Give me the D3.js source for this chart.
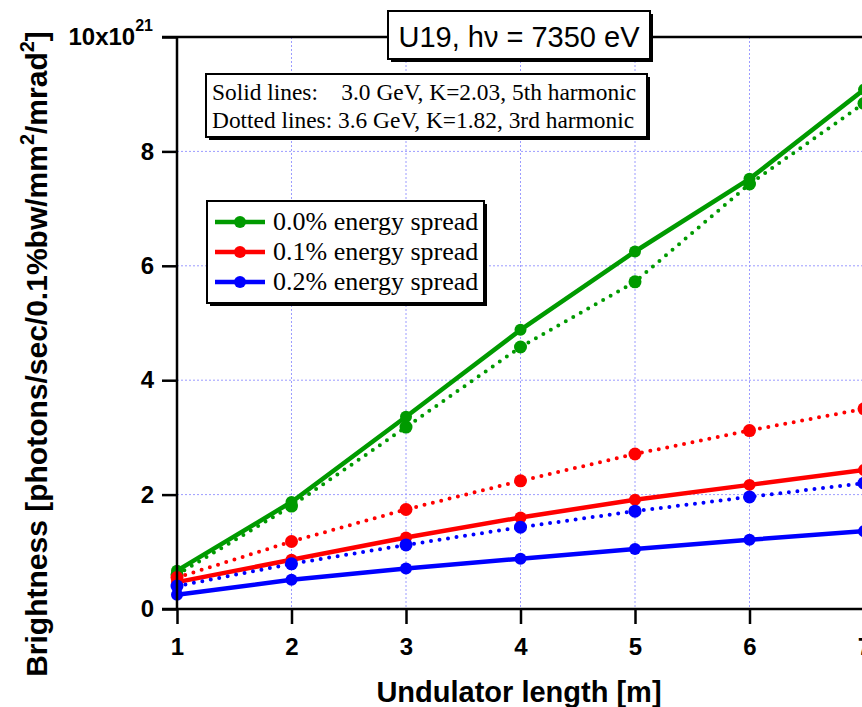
<!DOCTYPE html>
<html>
<head>
<meta charset="utf-8">
<script src="https://cdn.jsdelivr.net/npm/d3@7"></script>
<style>
  html, body { margin: 0; padding: 0; background: #fff; }
  svg { display: block; }
</style>
</head>
<body>
<svg id="chart" width="862" height="707"></svg>
<script>
// Undulator length [m]
const lengths = [1, 2, 3, 4, 5, 6, 7];

// Brightness in units of 1e21 photons/sec/0.1%bw/mm^2/mrad^2
// Solid lines: 3.0 GeV, K=2.03, 5th harmonic
const solid00 = [0.67, 1.87, 3.36, 4.88, 6.25, 7.52, 9.08];
const solid01 = [0.47, 0.86, 1.25, 1.60, 1.91, 2.17, 2.43];
const solid02 = [0.25, 0.51, 0.71, 0.88, 1.05, 1.21, 1.36];
// Dotted lines: 3.6 GeV, K=1.82, 3rd harmonic
const dotted00 = [0.60, 1.80, 3.18, 4.58, 5.72, 7.43, 8.84];
const dotted01 = [0.55, 1.18, 1.74, 2.24, 2.71, 3.12, 3.50];
const dotted02 = [0.40, 0.79, 1.12, 1.43, 1.71, 1.96, 2.20];

const spreadLabels = ["0.0% energy spread", "0.1% energy spread", "0.2% energy spread"];
const spreadColors = ["#009a00", "#ff0000", "#0000ff"];
const xTicks = [1, 2, 3, 4, 5, 6, 7];
const yTicks = [0, 2, 4, 6, 8, 10];
const noteLines = ["Solid lines:    3.0 GeV, K=2.03, 5th harmonic",
                   "Dotted lines: 3.6 GeV, K=1.82, 3rd harmonic"];
const titleText = "U19, h\u03bd = 7350 eV";

const svg = d3.select("#chart");
const x = d3.scaleLinear().domain([1, 7]).range([177, 864]);
const y = d3.scaleLinear().domain([0, 10]).range([609, 37]);

const sans = "Arial, 'Liberation Sans', Helvetica, sans-serif";
const serif = "'Times New Roman', 'Liberation Serif', Times, serif";

// grid
const grid = svg.append("g").attr("stroke", "#9c9cff").attr("stroke-width", 1)
  .attr("stroke-dasharray", "2,2");
grid.selectAll("line.v").data(xTicks.filter(d => d > 1)).join("line")
  .attr("x1", d => x(d)).attr("x2", d => x(d))
  .attr("y1", y(10)).attr("y2", y(0));
grid.selectAll("line.h").data(yTicks.filter(d => d > 0 && d < 10)).join("line")
  .attr("class", "h")
  .attr("x1", x(1)).attr("x2", 862)
  .attr("y1", d => y(d)).attr("y2", d => y(d));

// series
const series = [
  { values: solid00, color: spreadColors[0], dotted: false },
  { values: dotted00, color: spreadColors[0], dotted: true },
  { values: solid01, color: spreadColors[1], dotted: false },
  { values: dotted01, color: spreadColors[1], dotted: true },
  { values: solid02, color: spreadColors[2], dotted: false },
  { values: dotted02, color: spreadColors[2], dotted: true }
];
const line = d3.line().x((d, i) => x(lengths[i])).y(d => y(d));

series.forEach(s => {
  svg.append("path")
    .datum(s.values)
    .attr("d", line)
    .attr("fill", "none")
    .attr("stroke", s.color)
    .attr("stroke-width", s.dotted ? 4 : 4.5)
    .attr("stroke-linecap", "round")
    .attr("stroke-dasharray", s.dotted ? "0,8.6" : null);
  svg.append("g").selectAll("circle").data(s.values).join("circle")
    .attr("cx", (d, i) => x(lengths[i]))
    .attr("cy", d => y(d))
    .attr("r", s.dotted ? 6.5 : 6)
    .attr("fill", s.color);
});

// axes
const yAxis = d3.axisLeft(y).tickValues(yTicks).tickSize(15).tickPadding(8)
  .tickFormat(d => d === 10 ? "" : d);
const gy = svg.append("g").attr("transform", `translate(${x(1)},0)`).call(yAxis);
const xAxis = d3.axisBottom(x).tickValues(xTicks).tickSize(15).tickPadding(14).tickFormat(d3.format("d"));
const gx = svg.append("g").attr("transform", `translate(0,${y(0)})`).call(xAxis);

[gx, gy].forEach(g => {
  g.attr("font-size", 24).attr("font-family", sans).attr("font-weight", "bold");
  g.select(".domain").attr("stroke", "#000").attr("stroke-width", 2.5);
  g.selectAll(".tick line").attr("stroke", "#000").attr("stroke-width", 2.5);
  g.selectAll(".tick text").attr("fill", "#000");
});
gx.select(".domain").attr("d", `M${x(1) - 15},0H862`);
gy.select(".domain").attr("d", `M0,${y(10)}V${y(0)}`);

// top frame line
svg.append("line")
  .attr("x1", x(1) - 15).attr("x2", 862)
  .attr("y1", y(10)).attr("y2", y(10))
  .attr("stroke", "#000").attr("stroke-width", 2.5);

// top tick label with exponent
const topLabel = svg.append("text")
  .attr("x", x(1) - 24).attr("y", y(10) + 8)
  .attr("text-anchor", "end")
  .attr("font-family", sans).attr("font-weight", "bold").attr("font-size", 24);
topLabel.append("tspan").text("10x10");
topLabel.append("tspan").attr("dy", -14).attr("font-size", 16).text("21");

// axis titles
svg.append("text")
  .attr("x", 519).attr("y", 702)
  .attr("text-anchor", "middle")
  .attr("font-family", sans).attr("font-weight", "bold").attr("font-size", 29)
  .text("Undulator length [m]");

const yt = svg.append("text")
  .attr("transform", "translate(47,354) rotate(-90)")
  .attr("text-anchor", "middle")
  .attr("font-family", sans).attr("font-weight", "bold").attr("font-size", 30);
yt.append("tspan").text("Brightness [photons/sec/0.1%bw/mm");
yt.append("tspan").attr("dy", -13).attr("font-size", 20).text("2");
yt.append("tspan").attr("dy", 13).text("/mrad");
yt.append("tspan").attr("dy", -13).attr("font-size", 20).text("2");
yt.append("tspan").attr("dy", 13).text("]");

// boxed panel helper with drop shadow
function box(x0, y0, w, h) {
  svg.append("rect").attr("x", x0 + 3).attr("y", y0 + 3).attr("width", w).attr("height", h)
    .attr("fill", "#000");
  svg.append("rect").attr("x", x0).attr("y", y0).attr("width", w).attr("height", h)
    .attr("fill", "#fff").attr("stroke", "#000").attr("stroke-width", 2);
}

// title
box(388, 11, 262, 48);
svg.append("text")
  .attr("x", 519).attr("y", 47)
  .attr("text-anchor", "middle")
  .attr("font-family", sans).attr("font-size", 29)
  .text(titleText);

// note box
box(206, 74, 441, 63);
svg.append("g").selectAll("text").data(noteLines).join("text")
  .attr("x", 212).attr("y", (d, i) => 100 + i * 28)
  .attr("font-family", serif).attr("font-size", 23.4)
  .attr("xml:space", "preserve")
  .style("white-space", "pre")
  .text(d => d);

// legend
box(207, 201, 277, 102);
const leg = svg.append("g").selectAll("g").data(spreadLabels).join("g")
  .attr("transform", (d, i) => `translate(0,${222 + i * 30})`);
leg.append("line").attr("x1", 215).attr("x2", 265)
  .attr("stroke", (d, i) => spreadColors[i]).attr("stroke-width", 4.5);
leg.append("circle").attr("cx", 240).attr("r", 6)
  .attr("fill", (d, i) => spreadColors[i]);
leg.append("text").attr("x", 273).attr("y", 8)
  .attr("font-family", serif).attr("font-size", 26)
  .text(d => d);
</script>
</body>
</html>
